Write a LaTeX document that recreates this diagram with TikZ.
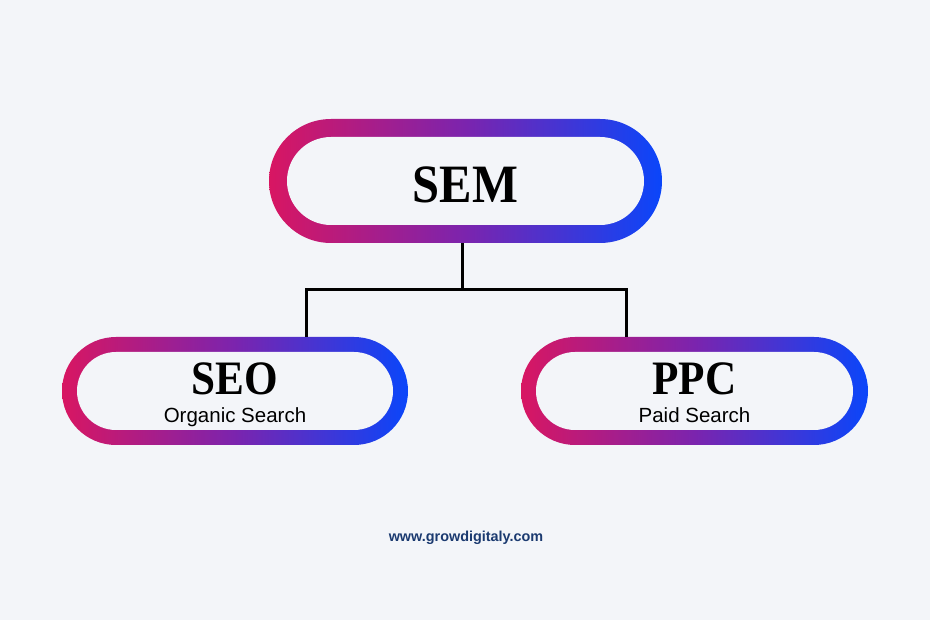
\documentclass[tikz,border=0pt]{standalone}
\usepackage{fontspec}
\newfontfamily\headfont[FakeStretch=0.9]{Liberation Serif}
\newfontfamily\subfont{Liberation Sans}
\definecolor{bg}{HTML}{F3F5F9}
\definecolor{pinkend}{HTML}{D81662}
\definecolor{midpurple}{HTML}{7B24AE}
\definecolor{blueend}{HTML}{0A46FA}
\definecolor{navy}{HTML}{1B3A70}
\begin{document}
\begin{tikzpicture}[
        x=1pt, y=-1pt,
        pill/.style 2 args = {rectangle, inner sep=0pt,
            left color=pinkend, right color=blueend, middle color=midpurple,
            path picture={\fill[bg, rounded corners=#2]
                ([shift={(#1,-#1)}]path picture bounding box.north west) rectangle
                ([shift={(-#1,#1)}]path picture bounding box.south east);}},
        title/.style = {anchor=base, inner sep=0pt, font=\headfont\bfseries\fontsize{48}{52}\selectfont},
        subtitle/.style = {anchor=base, inner sep=0pt, font=\subfont\fontsize{20.5}{24}\selectfont},
        link/.style = {line width=3pt, black},
    ]

    \useasboundingbox[fill=bg] (0,0) rectangle (930,620);

    \node[pill={18pt}{44pt}, minimum width=393pt, minimum height=124pt, rounded corners=62pt] (sem) at (465.5,181) {};
    \node[pill={15pt}{39pt}, minimum width=346pt, minimum height=108pt, rounded corners=54pt] (seo) at (235,391) {};
    \node[pill={15pt}{39pt}, minimum width=347pt, minimum height=108pt, rounded corners=54pt] (ppc) at (694.5,391) {};

    \node[title, font=\headfont\bfseries\fontsize{54}{60}\selectfont] (sem-t) at ([yshift=-22pt]sem.center) {SEM};
    \node[title] (seo-t) at ([yshift=-4pt]seo.center) {SEO};
    \node[title] (ppc-t) at ([yshift=-4pt]ppc.center) {PPC};
    \node[subtitle] (seo-s) at ([yshift=-32pt]seo.center) {Organic Search};
    \node[subtitle] (ppc-s) at ([yshift=-32pt]ppc.center) {Paid Search};

    \coordinate (bar) at (462,290);
    \draw[link] ([xshift=-3.5pt]sem.south) -- (bar);
    \draw[link] ([xshift=71pt]seo.north) |- (bar) -| ([xshift=-68pt]ppc.north);

    \node[anchor=base, inner sep=0pt, text=navy, font=\subfont\bfseries\fontsize{14.4}{17}\selectfont] (site) at (466,541) {www.growdigitaly.com};
\end{tikzpicture}
\end{document}
